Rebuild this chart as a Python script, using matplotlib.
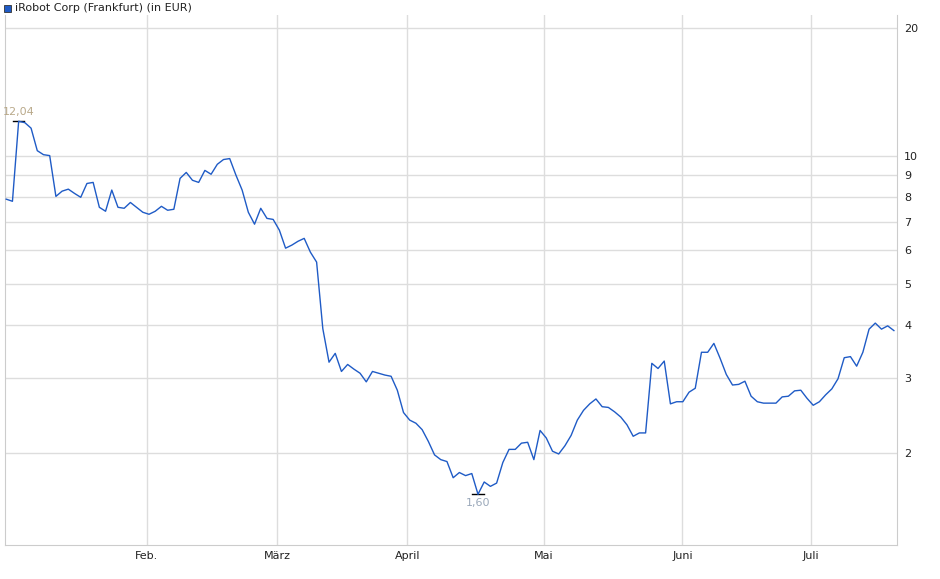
import matplotlib
matplotlib.use("Agg")
import matplotlib.pyplot as plt
import numpy as np
import pandas as pd
from matplotlib.ticker import FixedLocator, NullLocator

dates = pd.bdate_range("2024-01-02", "2024-07-19")
prices = [7.90, 7.81, 12.04, 11.95, 11.6, 10.27, 10.05, 10.0, 8.02, 8.25,
          8.34, 8.15, 7.98, 8.6, 8.65, 7.56, 7.4, 8.3, 7.56, 7.52,
          7.76, 7.56, 7.36, 7.28, 7.4, 7.6, 7.44, 7.48, 8.84, 9.13,
          8.75, 8.65, 9.23, 9.04, 9.54, 9.79, 9.84, 9.0, 8.3, 7.36,
          6.9, 7.52, 7.12, 7.08, 6.68, 6.06, 6.16, 6.29, 6.39, 5.93,
          5.62, 3.92, 3.27, 3.43, 3.11, 3.23, 3.15, 3.08, 2.94, 3.11,
          3.08, 3.05, 3.03, 2.81, 2.49, 2.39, 2.35, 2.27, 2.13, 1.98,
          1.93, 1.91, 1.75, 1.80, 1.77, 1.79, 1.60, 1.71, 1.67, 1.70,
          1.90, 2.04, 2.04, 2.11, 2.12, 1.93, 2.26, 2.17, 2.02, 1.99,
          2.08, 2.2, 2.39, 2.52, 2.61, 2.68, 2.57, 2.56, 2.5, 2.43,
          2.33, 2.19, 2.23, 2.23, 3.25, 3.16, 3.29, 2.61, 2.64, 2.64,
          2.78, 2.84, 3.45, 3.45, 3.62, 3.34, 3.06, 2.89, 2.9, 2.95,
          2.72, 2.64, 2.62, 2.62, 2.62, 2.71, 2.72, 2.8, 2.81, 2.69,
          2.59, 2.64, 2.74, 2.83, 2.99, 3.35, 3.37, 3.2, 3.45, 3.91,
          4.04, 3.91, 3.98, 3.88]
month_labels = ["Feb.", "März", "April", "Mai", "Juni", "Juli"]
month_starts = ["2024-02-01", "2024-03-01", "2024-04-01", "2024-05-01", "2024-06-01", "2024-07-01"]
y_ticks = [2, 3, 4, 5, 6, 7, 8, 9, 10, 20]

n = min(len(dates), len(prices))
x = np.arange(n)
prices = np.array(prices[:n])
dord = np.array([d.toordinal() for d in dates[:n]])
tick_pos = [np.interp(pd.Timestamp(m).toordinal(), dord, x) + 0.6 for m in month_starts]

fig = plt.figure(figsize=(9.4, 5.79), dpi=100)
ax = fig.add_axes([5/940, 34/579, 892/940, 530/579])
ax.set_yscale("log")
ax.plot(x, prices, color="#1f5bc6", lw=1.0, zorder=3)
ax.set_xlim(-0.2, n - 1 + 0.5)
ax.set_ylim(1.216, 21.4)

ax.yaxis.set_major_locator(FixedLocator(y_ticks))
ax.yaxis.set_minor_locator(NullLocator())
ax.set_yticklabels([str(t) for t in y_ticks])
ax.yaxis.tick_right()
ax.set_xticks(tick_pos)
ax.set_xticklabels(month_labels)
ax.tick_params(axis="both", length=0, labelsize=8, colors="#222222", pad=4)
ax.tick_params(axis="y", pad=5)
ax.grid(True, color="#dddddd", lw=1)
ax.set_axisbelow(True)
for s in ["left", "right", "bottom"]:
    ax.spines[s].set_color("#cccccc")
ax.spines["top"].set_visible(False)

imax = int(np.argmax(prices)); imin = int(np.argmin(prices))
ax.plot([imax - 0.9, imax + 0.9], [prices[imax]] * 2, color="black", lw=1)
ax.annotate(f"{prices[imax]:.2f}".replace(".", ","), (imax, prices[imax]),
            xytext=(0, 3), textcoords="offset points", ha="center", va="bottom",
            fontsize=8, color="#b9a98a")
ax.plot([imin - 0.9, imin + 0.9], [prices[imin]] * 2, color="black", lw=1)
ax.annotate(f"{prices[imin]:.2f}".replace(".", ","), (imin, prices[imin]),
            xytext=(0, -3), textcoords="offset points", ha="center", va="top",
            fontsize=8, color="#9aa8ba")

fig.patches.append(plt.Rectangle((4/940, 1 - 12/579), 7/940, 7/579, transform=fig.transFigure,
                                 facecolor="#1f5bc6", edgecolor="#333333", lw=0.6))
fig.text(15/940, 1 - 8/579, "iRobot Corp (Frankfurt) (in EUR)", fontsize=8, va="center", color="#222222")

fig.savefig("out.png", dpi=100)
